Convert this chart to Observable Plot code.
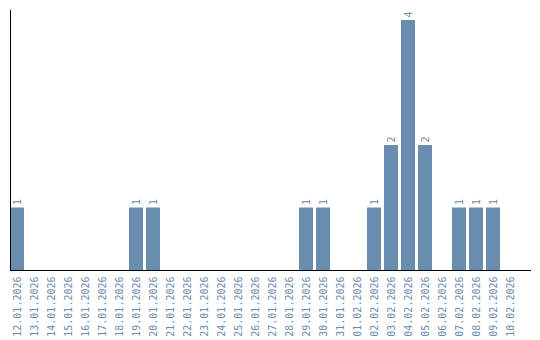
<!DOCTYPE html>
<html>
<head>
<meta charset="utf-8">
<script src="https://cdn.jsdelivr.net/npm/d3@7"></script>
<script src="https://cdn.jsdelivr.net/npm/@observablehq/plot@0.6"></script>
<style>
  html, body { margin: 0; padding: 0; background: #fff; }
</style>
</head>
<body>
<div id="chart"></div>
<script>
const dates = [
  "12.01.2026","13.01.2026","14.01.2026","15.01.2026","16.01.2026","17.01.2026",
  "18.01.2026","19.01.2026","20.01.2026","21.01.2026","22.01.2026","23.01.2026",
  "24.01.2026","25.01.2026","26.01.2026","27.01.2026","28.01.2026","29.01.2026",
  "30.01.2026","31.01.2026","01.02.2026","02.02.2026","03.02.2026","04.02.2026",
  "05.02.2026","06.02.2026","07.02.2026","08.02.2026","09.02.2026","10.02.2026"
];
const counts = [
  1,0,0,0,0,0,
  0,1,1,0,0,0,
  0,0,0,0,0,1,
  1,0,0,1,2,4,
  2,0,1,1,1,0
];

const data = dates.map((d, i) => ({date: d, count: counts[i]}));
const nonZero = data.filter(d => d.count > 0);
const color = "#6a8cae";

const chart = Plot.plot({
  width: 540,
  height: 340,
  marginTop: 10,
  marginLeft: 10,
  marginRight: 10,
  marginBottom: 70,
  style: {fontFamily: "'DejaVu Sans Mono', monospace", fontSize: "10px", background: "#fff"},
  x: {type: "band", domain: dates, range: [10, 518], paddingInner: 0.176, paddingOuter: 0, align: 0},
  y: {domain: [0, 4], insetTop: 10, axis: null},
  marks: [
    Plot.barY(data, {x: "date", y: "count", fill: color}),
    Plot.text(nonZero, {
      x: "date", y: "count", text: d => String(d.count),
      rotate: -90, textAnchor: "start", dy: -3, fill: color, fontSize: 10
    }),
    Plot.frame({anchor: "left", stroke: "#000"}),
    Plot.frame({anchor: "bottom", stroke: "#000"}),
    Plot.axisX({
      tickRotate: -90, tickSize: 0, tickPadding: 6, label: null,
      fill: color, fontSize: 10
    })
  ]
});
document.getElementById("chart").appendChild(chart);
</script>
</body>
</html>
